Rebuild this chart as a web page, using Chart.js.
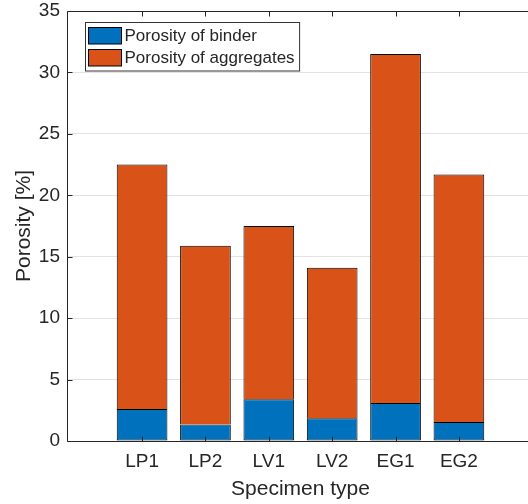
<!DOCTYPE html>
<html>
<head>
<meta charset="utf-8">
<script src="https://cdn.jsdelivr.net/npm/chart.js@4.4.1/dist/chart.umd.min.js"></script>
<style>
html, body { margin: 0; padding: 0; background: #fff; overflow: hidden; }
canvas { display: block; }
</style>
</head>
<body>
<canvas id="grafik" width="534" height="504"></canvas>
<script>
// Podaci ocitani sa slike
const kategorije = ['LP1', 'LP2', 'LV1', 'LV2', 'EG1', 'EG2'];
const poroznostVeziva = [2.6, 1.35, 3.4, 1.85, 3.1, 1.55];
const poroznostAgregata = [19.9, 14.55, 14.1, 12.25, 28.4, 20.15];
const yPodeoci = [0, 5, 10, 15, 20, 25, 30, 35];
const nazivi = ['Porosity of binder', 'Porosity of aggregates'];

const FONT = '"Liberation Sans", Arial, Helvetica, sans-serif';
const TAMNA = '#262626';

// okvir ose sa podeocima okrenutim ka unutra + legenda u uglu
const okvir = {
    id: 'okvir',
    afterDatasetsDraw(chart) {
        const ctx = chart.ctx;
        const a = chart.chartArea;
        const x = chart.scales.x, y = chart.scales.y;
        const L = Math.round(a.left) + 0.5;
        const B = Math.round(a.bottom) + 0.5;
        const T = Math.round(a.top) + 0.5;
        const R = a.right + 2;

        ctx.save();
        ctx.strokeStyle = TAMNA;
        ctx.lineWidth = 1;
        ctx.beginPath();
        ctx.moveTo(R, T); ctx.lineTo(L, T); ctx.lineTo(L, B); ctx.lineTo(R, B);
        yPodeoci.forEach(v => {
            const py = Math.round(y.getPixelForValue(v)) + 0.5;
            ctx.moveTo(L, py); ctx.lineTo(L + 5, py);
        });
        kategorije.forEach((k, i) => {
            const px = Math.round(x.getPixelForValue(i + 1)) + 0.5;
            ctx.moveTo(px, B); ctx.lineTo(px, B - 5);
            ctx.moveTo(px, T); ctx.lineTo(px, T + 5);
        });
        ctx.stroke();

        // legenda
        ctx.font = '17px ' + FONT;
        const skupovi = chart.data.datasets;
        let maxW = 0;
        skupovi.forEach(d => { maxW = Math.max(maxW, ctx.measureText(d.label).width); });
        const lx = Math.round(a.left) + 18.5;
        const ly = Math.round(a.top) + 11.5;
        const sirina = 3 + 33 + 3 + maxW + 5;
        const visina = 48.5;
        ctx.fillStyle = '#fff';
        ctx.fillRect(lx, ly, sirina, visina);
        ctx.strokeStyle = '#333';
        ctx.strokeRect(lx, ly, sirina, visina);
        ctx.textBaseline = 'middle';
        skupovi.forEach((d, i) => {
            const sy = ly + 5 + i * 22;
            ctx.fillStyle = d.backgroundColor;
            ctx.fillRect(lx + 3, sy, 33, 16.5);
            ctx.strokeStyle = '#000';
            ctx.strokeRect(lx + 3, sy, 33, 16.5);
            ctx.fillStyle = TAMNA;
            ctx.fillText(d.label, lx + 39, sy + 9);
        });
        ctx.restore();
    }
};

new Chart(document.getElementById('grafik'), {
    type: 'bar',
    data: {
        datasets: [
            {
                label: nazivi[0],
                data: poroznostVeziva.map((v, i) => ({ x: i + 1, y: v })),
                backgroundColor: '#0072BD',
                borderColor: '#000',
                borderWidth: 1,
                borderSkipped: false
            },
            {
                label: nazivi[1],
                data: poroznostAgregata.map((v, i) => ({ x: i + 1, y: v })),
                backgroundColor: '#D95319',
                borderColor: '#000',
                borderWidth: 1,
                borderSkipped: 'bottom'
            }
        ]
    },
    options: {
        responsive: false,
        animation: false,
        categoryPercentage: 1,
        barPercentage: 0.8,
        layout: { padding: { top: 11, right: 0, left: 0, bottom: 0 } },
        plugins: {
            legend: { display: false },
            tooltip: { enabled: false }
        },
        scales: {
            x: {
                type: 'linear',
                stacked: true,
                offset: false,
                min: -0.185,
                max: 7.185,
                afterBuildTicks: s => { s.ticks = kategorije.map((k, i) => ({ value: i + 1 })); },
                afterFit: s => { s.height = 63; s.paddingLeft = 0; s.paddingRight = 0; },
                grid: { display: false, drawTicks: false, offset: false },
                border: { display: false },
                ticks: {
                    autoSkip: false,
                    maxRotation: 0,
                    padding: 9,
                    color: TAMNA,
                    font: { family: FONT, size: 19 },
                    callback: v => kategorije[v - 1]
                },
                title: {
                    display: true,
                    text: 'Specimen type',
                    color: TAMNA,
                    font: { family: FONT, size: 21 },
                    padding: { top: 0, bottom: 2 }
                }
            },
            y: {
                stacked: true,
                min: 0,
                max: 35,
                afterBuildTicks: s => { s.ticks = yPodeoci.map(v => ({ value: v })); },
                afterFit: s => { s.width = 67; s.paddingTop = 0; s.paddingBottom = 0; },
                grid: { color: '#e3e3e3', drawTicks: false },
                border: { display: false },
                ticks: {
                    padding: 7,
                    color: TAMNA,
                    font: { family: FONT, size: 19 }
                },
                title: {
                    display: true,
                    text: 'Porosity [%]',
                    color: TAMNA,
                    font: { family: FONT, size: 21 },
                    padding: { top: 12, bottom: 0 }
                }
            }
        }
    },
    plugins: [okvir]
});
</script>
</body>
</html>
